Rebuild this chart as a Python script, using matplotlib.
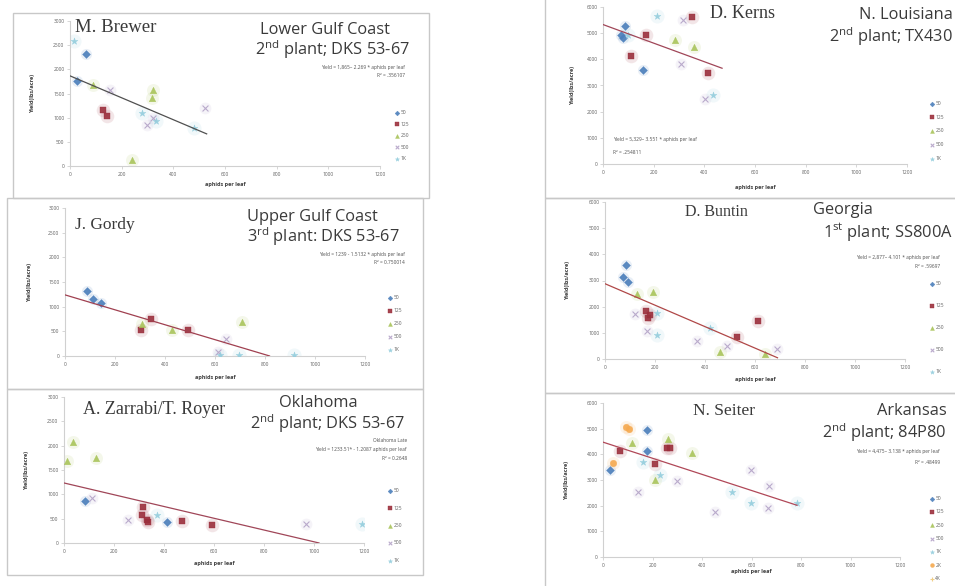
import matplotlib
matplotlib.use("Agg")
import matplotlib.pyplot as plt
from matplotlib.patches import Rectangle

plt.rcParams['font.family'] = ['Open Sans', 'DejaVu Sans']
plt.rcParams['mathtext.fontset'] = 'custom'
plt.rcParams['mathtext.rm'] = 'Open Sans'

W, H = 955, 586

series = ["50", "125", "250", "500", "1K", "2K", "4K"]
markers = ["D", "s", "^", "x", "*", "o", "+"]
colors = ["#4a7ebb", "#9b2f3c", "#a9c45a", "#b3a2c7", "#93cddd", "#f5a94f", "#efc97a"]
sizes = [16, 24, 22, 18, 26, 22, 18]

# M. Brewer, Lower Gulf Coast
brewer = {
    "50": ([62, 26], [2324, 1752]),
    "125": ([129, 145], [1152, 1028]),
    "250": ([90, 320, 316, 239], [1669, 1579, 1407, 131]),
    "500": ([155, 323, 297, 523], [1566, 1000, 841, 1207]),
    "1K": ([15, 277, 333, 481], [2590, 1097, 931, 786]),
}
brewer_fit = (1865, 2.269, 529)

# J. Gordy, Upper Gulf Coast
gordy = {
    "50": ([88, 112, 142], [1323, 1153, 1079]),
    "125": ([303, 345, 493], [536, 746, 536]),
    "250": ([428, 707, 309], [522, 692, 658]),
    "500": ([642, 612], [339, 81]),
    "1K": ([618, 697, 914], [27, 14, 14]),
}
gordy_fit = (1239, 1.5132, 818)

# A. Zarrabi / T. Royer, Oklahoma
zarrabi = {
    "50": ([84, 411], [863, 432]),
    "125": ([317, 311, 331, 337, 471, 593], [740, 568, 479, 432, 452, 377]),
    "250": ([35, 128, 11], [2075, 1747, 1685]),
    "500": ([111, 257, 968], [932, 479, 397]),
    "1K": ([371, 1192], [568, 384]),
}
zarrabi_fit = (1233.51, 1.2087, 1020)

# D. Kerns, N. Louisiana
kerns = {
    "50": ([86, 72, 79, 158], [5262, 4943, 4815, 3602]),
    "125": ([171, 112, 353, 414], [4917, 4112, 5619, 3474]),
    "250": ([283, 358], [4725, 4457]),
    "500": ([316, 309, 401], [5517, 3831, 2490]),
    "1K": ([99, 213, 434], [4943, 5670, 2618]),
}
kerns_fit = (5329, 3.551, 470)

# D. Buntin, Georgia
buntin = {
    "50": ([84, 73, 93], [3577, 3128, 2949]),
    "125": ([164, 173, 180, 527, 613], [1846, 1564, 1692, 859, 1436]),
    "250": ([129, 193, 460, 640], [2487, 2564, 282, 179]),
    "500": ([120, 169, 367, 487, 689], [1731, 1077, 692, 513, 385]),
    "1K": ([207, 207, 420], [1756, 923, 1179]),
}
buntin_fit = (2877, 4.101, 690)

# N. Seiter, Arkansas
seiter = {
    "50": ([30, 176, 176], [3403, 4935, 4117]),
    "125": ([68, 209, 257, 270], [4130, 3610, 4260, 4260]),
    "250": ([119, 209, 261, 358], [4442, 2987, 4610, 4065]),
    "500": ([142, 297, 453, 597, 672, 668], [2532, 2961, 1753, 3377, 2753, 1922]),
    "1K": ([162, 230, 520, 597, 784], [3701, 3182, 2532, 2104, 2104]),
    "2K": ([41, 92, 105], [3662, 5065, 5000]),
    "4K": ([], []),
}
seiter_fit = (4475, 3.138, 784)

fig = plt.figure(figsize=(W / 100, H / 100), dpi=100)


def fx(px):
    return px / W


def fy(py):
    return 1 - py / H


def box(l, t, r, b):
    fig.add_artist(Rectangle((fx(l), fy(b)), fx(r - l), (b - t) / H, transform=fig.transFigure,
                             fill=False, edgecolor="#c8c8c8", lw=1.0))


def panel(rect, pts, fit, ymax, ystep, line_c, leg, xlab_y, ylab_x):
    l, t, r, b = rect
    ax = fig.add_axes([fx(l), fy(b), fx(r - l), (b - t) / H])
    handles, labels = [], []
    for i, s in enumerate(series):
        if s not in pts:
            continue
        xs, ys = pts[s]
        if xs:
            ax.scatter(xs, ys, s=sizes[i] * 4, color=colors[i], alpha=0.12, lw=0, zorder=2)
        h = ax.scatter(xs, ys, s=sizes[i], marker=markers[i], color=colors[i],
                       alpha=0.9, lw=0.8 if markers[i] in "x+" else 0.3, zorder=3)
        handles.append(h)
        labels.append(s)
    a, k, xe = fit
    ax.plot([0, xe], [a, a - k * xe], color=line_c, lw=0.9, zorder=4)
    ax.set_xlim(0, 1200)
    ax.set_ylim(0, ymax)
    ax.set_xticks(range(0, 1201, 200))
    ax.set_yticks(range(0, ymax + 1, ystep))
    for sp in ["top", "right"]:
        ax.spines[sp].set_visible(False)
    for sp in ["left", "bottom"]:
        ax.spines[sp].set_color("#d0d0d0")
        ax.spines[sp].set_linewidth(0.8)
    ax.tick_params(labelsize=3.5, colors="#d0d0d0", labelcolor="#606060", length=2, width=0.6, pad=2)
    ax.set_facecolor("none")
    lx, ly, sp_px = leg
    ax.legend(handles, labels, loc="upper left", bbox_to_anchor=(fx(lx), fy(ly - 3)),
              bbox_transform=fig.transFigure, frameon=False, fontsize=3.5,
              labelspacing=(sp_px - 4.9) / 4.9, handlelength=0.8, handletextpad=0.3,
              borderpad=0, borderaxespad=0, markerscale=0.6, labelcolor="#606060")
    fig.text(fx((l + r) / 2), fy(xlab_y), "aphids per leaf", fontsize=4, fontweight="bold",
             color="#404040", ha="center", va="center")
    fig.text(fx(ylab_x), fy((t + b) / 2), "Yield(lbs/acre)", fontsize=4, fontweight="bold",
             color="#404040", ha="center", va="center", rotation=90)
    return ax


name_font = ["Liberation Serif", "DejaVu Serif"]
dark = "#3a3a3a"
loc_fs = 11.8

# borders
box(13, 13, 429, 198)
box(7, 198, 423, 389)
box(7, 389, 423, 575)
box(545, -2, 957, 198)
box(545, 198, 957, 393)
box(545, 393, 957, 590)

panel((70, 21, 380, 166), brewer, brewer_fit, 3000, 500, "#505050", (395, 113, 11.5), 185, 33)
panel((65, 208, 365, 356), gordy, gordy_fit, 3000, 500, "#a04050", (388, 298, 13), 377, 30)
panel((64, 397, 364, 543), zarrabi, zarrabi_fit, 3000, 500, "#a04658", (388, 491, 17.5), 563, 27)
panel((603, 7, 907, 164), kerns, kerns_fit, 6000, 1000, "#a04658", (930, 104, 13.7), 187, 573)
panel((605, 202, 905, 359), buntin, buntin_fit, 6000, 1000, "#b04848", (930, 284, 22), 380, 568)
panel((603, 403, 900, 557), seiter, seiter_fit, 6000, 1000, "#b04858", (930, 499, 13.3), 572, 567)

# titles
fig.text(fx(75), fy(27), "M. Brewer", family=name_font, fontsize=13.5, color=dark, va="center")
fig.text(fx(325), fy(30), "Lower Gulf Coast", fontsize=loc_fs, color=dark, ha="center", va="center")
fig.text(fx(332), fy(50), "2$^{\\rm nd}$ plant; DKS 53-67", fontsize=loc_fs, color=dark, ha="center", va="center")
fig.text(fx(405), fy(67), "Yield = 1,865\u2013 2.269 * aphids per leaf", fontsize=3.5, color="#505050", ha="right", va="center")
fig.text(fx(405), fy(76), "R\u00b2 = .356107", fontsize=3.5, color="#505050", ha="right", va="center")

fig.text(fx(75), fy(225), "J. Gordy", family=name_font, fontsize=12.5, color=dark, va="center")
fig.text(fx(247), fy(217), "Upper Gulf Coast", fontsize=loc_fs, color=dark, ha="left", va="center")
fig.text(fx(247), fy(237), "3$^{\\rm rd}$ plant: DKS 53-67", fontsize=loc_fs, color=dark, ha="left", va="center")
fig.text(fx(405), fy(255), "Yield = 1239 - 1.5132 * aphids per leaf", fontsize=3.5, color="#505050", ha="right", va="center")
fig.text(fx(405), fy(263), "R\u00b2 = 0.750014", fontsize=3.5, color="#505050", ha="right", va="center")

fig.text(fx(83), fy(410), "A. Zarrabi/T. Royer", family=name_font, fontsize=13, color=dark, va="center")
fig.text(fx(318), fy(403), "Oklahoma", fontsize=loc_fs, color=dark, ha="center", va="center")
fig.text(fx(405), fy(424), "2$^{\\rm nd}$ plant; DKS 53-67", fontsize=loc_fs, color=dark, ha="right", va="center")
fig.text(fx(407), fy(441), "Oklahoma Late", fontsize=3.5, color="#505050", ha="right", va="center")
fig.text(fx(407), fy(450), "Yield = 1233.51* - 1.2087 aphids per leaf", fontsize=3.5, color="#505050", ha="right", va="center")
fig.text(fx(407), fy(459), "R\u00b2 = 0.2648", fontsize=3.5, color="#505050", ha="right", va="center")

fig.text(fx(710), fy(13), "D. Kerns", family=name_font, fontsize=13, color=dark, va="center")
fig.text(fx(953), fy(15), "N. Louisiana", fontsize=loc_fs, color=dark, ha="right", va="center")
fig.text(fx(953), fy(37), "2$^{\\rm nd}$ plant; TX430", fontsize=loc_fs, color=dark, ha="right", va="center")
fig.text(fx(613), fy(140), "Yield = 5,329\u2013 3.551 * aphids per leaf", fontsize=3.5, color="#505050", ha="left", va="center")
fig.text(fx(613), fy(152), "R\u00b2 = .254811", fontsize=3.5, color="#505050", ha="left", va="center")

fig.text(fx(685), fy(212), "D. Buntin", family=name_font, fontsize=11.5, color=dark, va="center")
fig.text(fx(813), fy(210), "Georgia", fontsize=loc_fs, color=dark, ha="left", va="center")
fig.text(fx(953), fy(232), "1$^{\\rm st}$ plant; SS800A", fontsize=loc_fs, color=dark, ha="right", va="center")
fig.text(fx(940), fy(257), "Yield = 2,877\u2013 4.101 * aphids per leaf", fontsize=3.5, color="#505050", ha="right", va="center")
fig.text(fx(940), fy(266), "R\u00b2 = .59697", fontsize=3.5, color="#505050", ha="right", va="center")

fig.text(fx(693), fy(411), "N. Seiter", family=name_font, fontsize=12.5, color=dark, va="center")
fig.text(fx(947), fy(411), "Arkansas", fontsize=loc_fs, color=dark, ha="right", va="center")
fig.text(fx(947), fy(433), "2$^{\\rm nd}$ plant; 84P80", fontsize=loc_fs, color=dark, ha="right", va="center")
fig.text(fx(940), fy(452), "Yield = 4,475\u2013 3.138 * aphids per leaf", fontsize=3.5, color="#505050", ha="right", va="center")
fig.text(fx(940), fy(462), "R\u00b2 = .48499", fontsize=3.5, color="#505050", ha="right", va="center")

fig.savefig("out.png", dpi=100, facecolor="white")
